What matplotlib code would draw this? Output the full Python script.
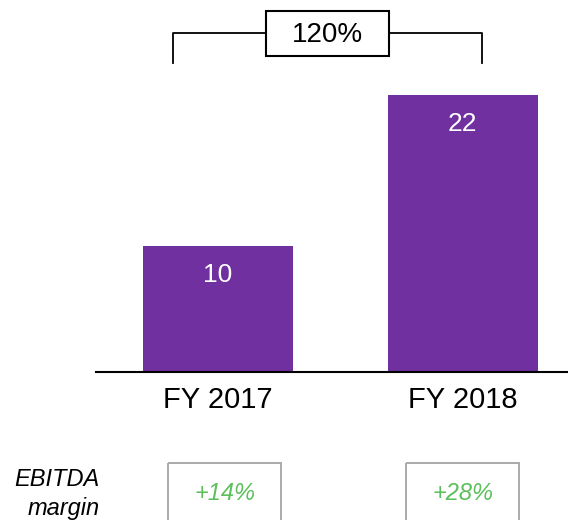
import matplotlib
matplotlib.use("Agg")
import matplotlib.pyplot as plt
from matplotlib.patches import Rectangle

plt.rcParams['font.family'] = ['Liberation Sans', 'DejaVu Sans']

# data
years = ["FY 2017", "FY 2018"]
ebitda = [10, 22]
growth_label = "120%"
margins = ["+14%", "+28%"]

purple = "#7030A0"
green = "#5CBF5C"

W, H = 568, 520
fig = plt.figure(figsize=(W / 100, H / 100), dpi=100)

# main bar chart, placed in pixel terms
ax = fig.add_axes([96 / W, (H - 372) / H, (W - 96) / W, 372 / H])
x = list(range(len(years)))
bars = ax.bar(x, ebitda, width=0.613, color=purple)
ax.set_xlim(-0.499, 1.431)
ax.set_ylim(0, 29.52)
for b, v in zip(bars, ebitda):
    ax.annotate(str(v), (b.get_x() + b.get_width() / 2, v), xytext=(0, -21),
                textcoords="offset points", ha="center", va="center",
                color="white", fontsize=19)
for s in ["top", "right", "left"]:
    ax.spines[s].set_visible(False)
ax.spines["bottom"].set_linewidth(1.5)
ax.set_yticks([])
ax.set_xticks(x)
ax.set_xticklabels(years, fontsize=21)
ax.tick_params(axis="x", length=0, pad=10)

# overlay in pixel coordinates for bracket and margin boxes
ov = fig.add_axes([0, 0, 1, 1], facecolor="none")
ov.set_xlim(0, W)
ov.set_ylim(H, 0)
ov.axis("off")

# growth bracket
ov.plot([173, 173, 266], [63, 33, 33], color="black", lw=1.3)
ov.plot([389, 482, 482], [33, 33, 63], color="black", lw=1.3)
ov.add_patch(Rectangle((266, 11), 123, 45, fill=False, ec="black", lw=1.5))
ov.text(327.5, 35, growth_label, ha="center", va="center", fontsize=20)

# EBITDA margin row
ov.text(100, 480, "EBITDA", ha="right", va="center", fontsize=17, style="italic")
ov.text(100, 509, "margin", ha="right", va="center", fontsize=17, style="italic")
box_x = [168, 406]
for bx, m in zip(box_x, margins):
    ov.add_patch(Rectangle((bx, 463), 113, 70, fill=False, ec="#AAAAAA", lw=1.4))
    ov.text(bx + 56.5, 494, m, ha="center", va="center", fontsize=17,
            style="italic", color=green)

fig.savefig("out.png", dpi=100)
